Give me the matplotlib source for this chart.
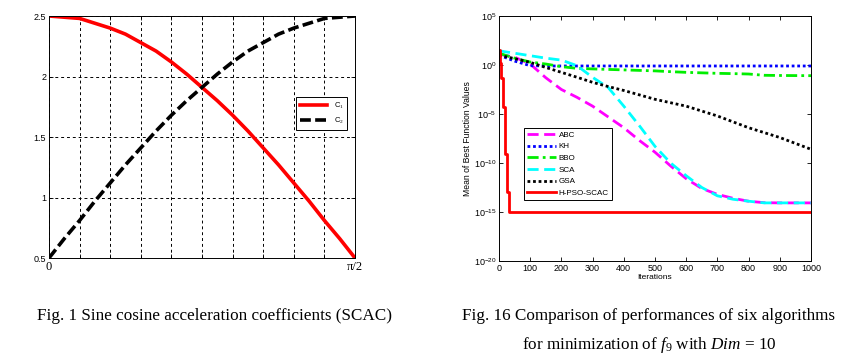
import numpy as np
import matplotlib.pyplot as plt
from matplotlib.ticker import FixedLocator, LogFormatterMathtext, NullLocator

plt.rcParams['font.family'] = ['Liberation Sans', 'DejaVu Sans']
plt.rcParams['mathtext.fontset'] = 'custom'
plt.rcParams['mathtext.it'] = 'Liberation Serif:italic'
plt.rcParams['mathtext.rm'] = 'Liberation Serif'

# ---- Fig. 1 : sine cosine acceleration coefficients
frac = [0.0, 0.05, 0.1, 0.15, 0.2, 0.25, 0.3, 0.35, 0.4, 0.45, 0.5,
        0.55, 0.6, 0.65, 0.7, 0.75, 0.8, 0.85, 0.9, 0.95, 1.0]
c1 = [2.5, 2.49, 2.48, 2.44, 2.40, 2.35, 2.28, 2.21, 2.12, 2.02, 1.91,
      1.80, 1.68, 1.55, 1.41, 1.27, 1.12, 0.97, 0.81, 0.66, 0.5]
c2 = [0.5, 0.66, 0.81, 0.97, 1.12, 1.27, 1.41, 1.55, 1.68, 1.80, 1.91,
      2.02, 2.12, 2.21, 2.28, 2.35, 2.40, 2.44, 2.48, 2.49, 2.5]

# ---- Fig. 16 : convergence curves, log10 of mean best value
it_hpso = [0, 2, 7, 13, 20, 26, 32, 40, 1000]
hpso = [1.5, 0.2, -1.3, -4.3, -9.1, -13.0, -15.0, -15.0, -15.0]

it = [0, 50, 100, 150, 200, 250, 300, 350, 400, 450, 500, 550, 600,
      650, 700, 750, 800, 850, 900, 950, 1000]
abc = [1.1, 0.8, 0.1, -1.3, -2.5, -3.3, -4.2, -5.3, -6.4, -7.7, -8.9,
       -10.3, -11.6, -12.6, -13.2, -13.6, -13.9, -14.05, -14.07, -14.07, -14.07]
kh = [1.0, 0.4, -0.07, -0.1, -0.1, -0.1, -0.1, -0.1, -0.1, -0.1, -0.1,
      -0.1, -0.1, -0.1, -0.1, -0.1, -0.1, -0.1, -0.1, -0.1, -0.1]
bbo = [1.2, 0.7, 0.3, 0.1, -0.17, -0.34, -0.4, -0.45, -0.5, -0.55, -0.6,
       -0.68, -0.75, -0.8, -0.85, -0.88, -0.92, -1.05, -1.07, -1.08, -1.09]
sca = [1.45, 1.2, 0.95, 0.7, 0.5, -0.07, -1.26, -2.3, -4.2, -6.2, -8.3,
       -10.0, -11.3, -12.5, -13.35, -13.7, -13.9, -14.07, -14.07, -14.07, -14.07]
gsa = [1.0, 0.65, 0.27, -0.25, -0.75, -1.25, -1.77, -2.2, -2.6, -3.05, -3.5,
       -3.85, -4.2, -4.7, -5.2, -5.8, -6.4, -6.9, -7.4, -8.0, -8.6]

W, H = 854, 362
fig = plt.figure(figsize=(W / 100, H / 100), dpi=100)
fig.patch.set_facecolor('white')

def box(x0, y0, x1, y1):
    return [x0 / W, (H - y1) / H, (x1 - x0) / W, (y1 - y0) / H]

# ---------------- left chart
ax = fig.add_axes(box(49, 16, 355, 258))
x = np.array(frac) * np.pi / 2
ax.plot(x, c1, color='red', lw=2.6, label='C$_1$')
ax.plot(x, c2, color='black', lw=2.6, ls=(0, (3, 1.2)), label='C$_2$')
ax.set_xlim(0, np.pi / 2)
ax.set_ylim(0.5, 2.5)
xt = np.linspace(0, np.pi / 2, 11)
ax.set_xticks(xt)
ax.set_xticklabels(['0'] + [''] * 9 + ['\u03c0/2'], family='Liberation Serif', fontsize=9)
ax.set_yticks([0.5, 1, 1.5, 2, 2.5])
ax.set_yticklabels(['0.5', '1', '1.5', '2', '2.5'], fontsize=6.5)
ax.grid(True, color='black', ls=(0, (3, 3)), lw=0.7)
ax.tick_params(direction='in', length=3, width=0.6, top=True, right=True, pad=2)
for s in ax.spines.values():
    s.set_linewidth(0.7)
leg = ax.legend(loc='upper left', bbox_to_anchor=(0.795, 0.68), fontsize=5.5,
                frameon=True, fancybox=False, edgecolor='black', framealpha=1,
                handlelength=3.6, borderpad=0.5, labelspacing=0.6)
leg.get_frame().set_linewidth(0.7)

# ---------------- right chart
ax2 = fig.add_axes(box(499, 16, 811, 261))
p = lambda v: 10.0 ** np.array(v)
ax2.plot(it, p(abc), color='#ff00ff', lw=2, ls=(0, (4, 2)), label='ABC')
ax2.plot(it, p(kh), color='#0000ff', lw=2, ls=(0, (1, 1)), label='KH')
ax2.plot(it, p(bbo), color='#00ee00', lw=2, ls=(0, (4, 1.5, 1, 1.5)), label='BBO')
ax2.plot(it, p(sca), color='#00ffff', lw=2, ls=(0, (4, 2)), label='SCA')
ax2.plot(it, p(gsa), color='black', lw=2, ls=(0, (1, 1)), label='GSA')
ax2.step(it_hpso, p(hpso), where='post', color='red', lw=2, label='H-PSO-SCAC')
ax2.set_yscale('log')
ax2.set_xlim(0, 1000)
ax2.set_ylim(1e-20, 1e5)
ax2.yaxis.set_major_locator(FixedLocator([1e-20, 1e-15, 1e-10, 1e-5, 1e0, 1e5]))
ax2.yaxis.set_major_formatter(LogFormatterMathtext())
ax2.yaxis.set_minor_locator(NullLocator())
ax2.set_xticks(range(0, 1001, 100))
ax2.tick_params(direction='in', length=3, width=0.6, top=True, right=True,
                labelsize=6.5, pad=2)
for s in ax2.spines.values():
    s.set_linewidth(0.7)
ax2.set_xlabel('Iterations', fontsize=6, labelpad=1)
ax2.set_ylabel('Mean of Best Function Values', fontsize=6.2, labelpad=1)
leg2 = ax2.legend(loc='upper left', bbox_to_anchor=(0.067, 0.56), fontsize=5.8,
                  frameon=True, fancybox=False, edgecolor='black', framealpha=1,
                  handlelength=3.6, borderpad=0.4, labelspacing=0.5, handletextpad=0.3)
leg2.get_frame().set_linewidth(0.7)

# ---------------- captions
fig.text(215 / W, 1 - 316 / H, 'Fig. 1 Sine cosine acceleration coefficients (SCAC)',
         ha='center', va='center', family='Liberation Serif', fontsize=12.3)
fig.text(649 / W, 1 - 316 / H, 'Fig. 16 Comparison of performances of six algorithms',
         ha='center', va='center', family='Liberation Serif', fontsize=12.3)
fig.text(649 / W, 1 - 345 / H, 'for minimization of $f_9$ with $Dim$ = 10',
         ha='center', va='center', family='Liberation Serif', fontsize=12.3)

fig.savefig('out.png', dpi=100)
